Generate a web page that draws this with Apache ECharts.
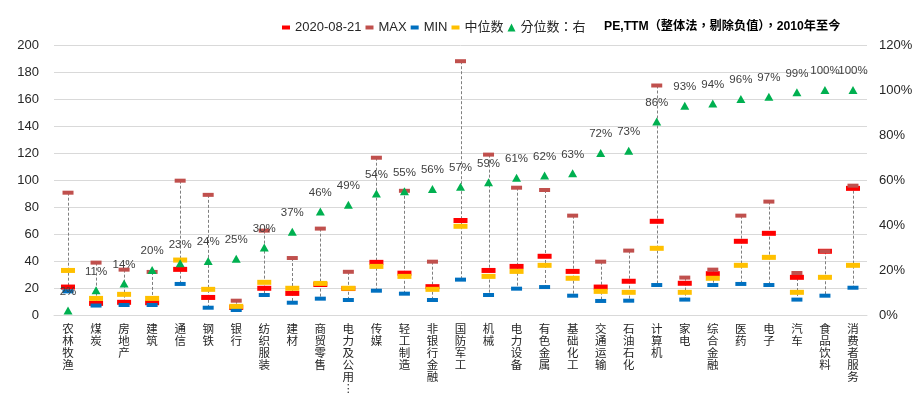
<!DOCTYPE html>
<html><head><meta charset="utf-8">
<script src="https://cdn.jsdelivr.net/npm/echarts@6/dist/echarts.min.js"></script>
<style>html,body{margin:0;padding:0;background:#fff}#c{width:922px;height:402px}</style>
</head><body><div id="c"></div>
<script>
const categories = ['农林牧渔','煤炭','房地产','建筑','通信','钢铁','银行','纺织服装','建材','商贸零售','电力及公用事业','传媒','轻工制造','非银行金融','国防军工','机械','电力设备','有色金属','基础化工','交通运输','石油石化','计算机','家电','综合金融','医药','电子','汽车','食品饮料','消费者服务'];
const currentPE = [20.7, 8.6, 9.4, 9.1, 33.8, 13, 5.6, 19.8, 16, 22.6, 19.6, 39, 31, 21, 70, 33, 36, 43.5, 32.3, 20.7, 25, 69.4, 23.5, 30.6, 54.6, 60.5, 27.9, 47.2, 93.8];
const maxPE = [90.6, 38.8, 33.6, 31.9, 99.5, 89, 10.6, 62.5, 42.2, 64, 32, 116.5, 92, 39.5, 188, 118.8, 94.3, 92.6, 73.6, 39.5, 47.7, 170, 27.7, 33.6, 73.6, 84, 31.1, 47.2, 95.8];
const minPE = [17.5, 7, 7.4, 7.4, 23, 5.4, 3.7, 14.8, 9.1, 12.1, 11.1, 18, 15.8, 11.1, 26.2, 14.8, 19.5, 20.7, 14.3, 10.4, 10.6, 22.2, 11.4, 22.2, 23, 22.2, 11.4, 14.3, 20.2];
const medianPE = [33, 12.3, 15.3, 12.3, 40.7, 19, 6.4, 24.2, 19.8, 23.4, 19.8, 36, 28.6, 19, 65.7, 28.6, 32.3, 36.8, 27.2, 17.5, 16.8, 49.4, 16.8, 27.2, 36.8, 42.7, 16.8, 27.9, 36.8];
const percentile = [2, 11, 14, 20, 23, 24, 25, 30, 37, 46, 49, 54, 55, 56, 57, 59, 61, 62, 63, 72, 73, 86, 93, 94, 96, 97, 99, 100, 100];
const leftAxis = {min: 0, max: 200, interval: 20};
const rightAxis = {min: 0, max: 120, interval: 20};
const titleText = 'PE,TTM（整体法，剔除负值），2010年至今';

const FONT = "'Liberation Sans','Noto Sans CJK SC',sans-serif";
const FONT_TC = "'Liberation Sans','Noto Sans CJK TC',sans-serif";
const rectIcon = 'path://M0,0M0,2L8,2L8,6L0,6ZM8,8';
const triIcon = 'path://M4,0L8,8L0,8Z';

const chart = echarts.init(document.getElementById('c'), null, {renderer: 'canvas'});
chart.setOption({
  animation: false,
  textStyle: {fontFamily: FONT},
  title: {
    text: titleText, left: 604, top: 21, padding: 0,
    textStyle: {fontSize: 12.2, fontWeight: 'bold', color: '#000', fontFamily: FONT_TC}
  },
  legend: {
    left: 282, top: 21, padding: 0, itemGap: 4, itemWidth: 8, itemHeight: 8,
    textStyle: {fontSize: 13, color: '#262626', fontFamily: FONT_TC},
    data: [
      {name: '2020-08-21', icon: rectIcon},
      {name: 'MAX', icon: rectIcon},
      {name: 'MIN', icon: rectIcon},
      {name: '中位数', icon: rectIcon},
      {name: '分位数：右', icon: triIcon}
    ]
  },
  grid: {left: 54, right: 55, top: 45, bottom: 87, containLabel: false},
  xAxis: {
    type: 'category', data: categories, boundaryGap: true,
    axisTick: {show: false},
    axisLine: {show: true, lineStyle: {color: '#D9D9D9'}},
    axisLabel: {
      interval: 0, margin: 9, fontSize: 11.5, lineHeight: 12, color: '#262626', fontFamily: FONT,
      verticalAlign: 'top',
      formatter: function (v) {
        const s = v.length > 5 ? v.slice(0, 5) + '︙' : v;
        return s.split('').join('\n');
      }
    }
  },
  yAxis: [
    {
      type: 'value', min: leftAxis.min, max: leftAxis.max, interval: leftAxis.interval,
      axisLine: {show: false}, axisTick: {show: false},
      splitLine: {lineStyle: {color: '#D9D9D9'}},
      axisLabel: {fontSize: 13, color: '#262626', margin: 15, fontFamily: FONT}
    },
    {
      type: 'value', min: rightAxis.min, max: rightAxis.max, interval: rightAxis.interval,
      axisLine: {show: false}, axisTick: {show: false}, splitLine: {show: false},
      axisLabel: {fontSize: 13, color: '#262626', margin: 12, formatter: '{value}%', fontFamily: FONT}
    }
  ],
  series: [
    {
      type: 'custom', name: 'range', silent: true, z: 1,
      data: categories.map((c, i) => [i, maxPE[i], minPE[i]]),
      encode: {x: 0, y: [1, 2]},
      renderItem: function (params, api) {
        const p1 = api.coord([api.value(0), api.value(1)]);
        const p2 = api.coord([api.value(0), api.value(2)]);
        return {
          type: 'line',
          shape: {x1: Math.round(p1[0]) + 0.5, y1: p1[1], x2: Math.round(p2[0]) + 0.5, y2: p2[1]},
          style: {stroke: '#7F7F7F', lineWidth: 1, lineDash: [3, 2]}
        };
      }
    },
    {name: '2020-08-21', type: 'scatter', z: 2, data: currentPE, symbol: 'rect', symbolSize: [14, 5], itemStyle: {color: '#FF0000', opacity: 1}},
    {name: 'MAX', type: 'scatter', z: 2, data: maxPE, symbol: 'rect', symbolSize: [11, 4], itemStyle: {color: '#C0504D', opacity: 1}},
    {name: 'MIN', type: 'scatter', z: 2, data: minPE, symbol: 'rect', symbolSize: [11, 4], itemStyle: {color: '#0070C0', opacity: 1}},
    {name: '中位数', type: 'scatter', z: 2, data: medianPE, symbol: 'rect', symbolSize: [14, 5], itemStyle: {color: '#FFC000', opacity: 1}},
    {
      name: '分位数：右', type: 'scatter', z: 3, yAxisIndex: 1, data: percentile,
      symbol: 'triangle', symbolSize: [9, 8], itemStyle: {color: '#00B050', opacity: 1},
      label: {show: true, position: 'top', distance: 9, formatter: '{c}%', fontSize: 11.5, color: '#404040', fontFamily: FONT}
    }
  ]
});
</script>
</body></html>
